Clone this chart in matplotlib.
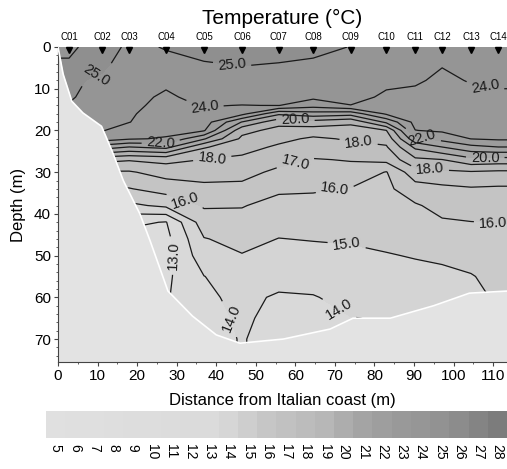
import numpy as np
import matplotlib
matplotlib.use("Agg")
import matplotlib.pyplot as plt
from matplotlib.colors import LinearSegmentedColormap, Normalize

plt.rcParams["font.family"] = ["Liberation Sans", "DejaVu Sans"]

# stations along the transect
stations = ["C01", "C02", "C03", "C04", "C05", "C06", "C07",
            "C08", "C09", "C10", "C11", "C12", "C13", "C14"]
station_x = [2.8, 11.1, 18.0, 27.3, 36.9, 46.5, 55.8, 64.5, 74.0, 83.0, 90.3, 97.1, 104.4, 111.3]

# depths of the profile samples (m)
depths = [0, 4, 8, 12, 14, 16, 18, 20, 22, 24, 27, 30, 34, 38, 42, 46, 50, 55, 60, 65, 70, 76]

# temperature profile of each station (°C), one value per depth
temp = [
    [24.8, 25.1, 25.15, 25.1, 24.95, 24.85, 24.7, 24.4, 23.8, 21.9, 18.5, 16.9, 15.9, 14.8, 13.2, 12.6, 12.5, 12.5, 12.5, 12.5, 12.5, 12.5],
    [25.5, 25.2, 24.85, 24.6, 24.5, 24.35, 24.2, 24.05, 23.5, 21.5, 18.3, 16.9, 15.9, 14.8, 13.2, 12.6, 12.5, 12.5, 12.5, 12.5, 12.5, 12.5],
    [24.8, 24.6, 24.45, 24.3, 24.2, 24.1, 24.02, 23.6, 23.1, 20.95, 18.1, 16.9, 15.95, 14.8, 13.2, 12.6, 12.5, 12.5, 12.6, 12.7, 12.8, 12.8],
    [25.05, 24.8, 24.2, 23.85, 23.75, 23.6, 23.5, 23.3, 22.9, 21.3, 18.3, 17.4, 16.4, 15.2, 12.95, 12.7, 12.6, 12.8, 12.9, 12.95, 12.95, 12.95],
    [25.3, 24.95, 24.6, 24.3, 24.05, 23.8, 23.5, 23.1, 21.1, 19.1, 17.98, 17.4, 16.75, 16.1, 15.55, 14.95, 14.6, 13.98, 13.85, 13.8, 13.8, 13.8],
    [25.4, 25.05, 24.7, 24.35, 23.98, 23.3, 20.95, 19.3, 18.8, 18.35, 17.8, 17.3, 16.75, 16.05, 15.7, 15.3, 14.95, 14.55, 14.2, 14.08, 14.03, 14.03],
    [25.35, 24.98, 24.6, 24.3, 24.02, 21.2, 19.3, 18.7, 18.25, 17.85, 17.3, 16.8, 16.15, 15.7, 15.35, 14.98, 14.7, 14.3, 13.9, 13.85, 13.8, 13.8],
    [25.2, 24.9, 24.55, 24.2, 23.4, 21.6, 19.6, 18.5, 17.85, 17.5, 16.95, 16.6, 16.1, 15.7, 15.4, 15.05, 14.7, 14.35, 13.95, 13.85, 13.8, 13.8],
    [24.98, 24.7, 24.45, 24.3, 23.98, 21.4, 19.2, 18.6, 18.1, 17.75, 17.05, 16.7, 15.95, 15.65, 15.4, 15.1, 14.8, 14.5, 14.25, 13.98, 13.9, 13.9],
    [24.8, 24.5, 24.2, 23.85, 23.6, 23.15, 21.2, 18.98, 18.35, 17.9, 17.3, 15.95, 15.8, 15.6, 15.4, 15.2, 14.95, 14.6, 14.3, 14.05, 13.9, 13.9],
    [24.7, 24.45, 24.1, 23.8, 23.65, 23.5, 23.3, 22.98, 21.7, 20.2, 18.8, 17.6, 16.55, 15.9, 15.6, 15.35, 15.05, 14.75, 14.3, 14.02, 13.9, 13.9],
    [24.3, 24.05, 23.85, 23.7, 23.6, 23.45, 23.3, 23.15, 22.35, 20.98, 18.98, 17.8, 16.75, 16.3, 15.9, 15.55, 15.15, 14.8, 14.6, 14.5, 14.4, 14.4],
    [24.45, 24.3, 24.05, 23.8, 23.65, 23.5, 23.35, 23.2, 23.02, 21.7, 19.7, 17.9, 16.9, 16.45, 15.98, 15.6, 15.3, 14.95, 14.8, 14.7, 14.6, 14.6],
    [24.5, 24.35, 24.1, 23.9, 23.8, 23.6, 23.45, 23.3, 23.15, 21.98, 19.6, 17.8, 16.85, 16.45, 16.02, 15.7, 15.45, 15.25, 15.1, 15.05, 15.05, 15.05],
]

# sea floor profile
bottom_x = [0, 1.3, 3.5, 6.3, 11, 13.7, 16.5, 20.7, 23.3, 27.8, 34, 40, 46, 57, 68.8, 74.6, 84, 95, 104, 113.5]
bottom_depth = [0, 6.5, 13, 15.8, 19, 25, 32, 40, 46.5, 58.5, 64.5, 69, 71, 70, 67.6, 65, 65, 62, 59, 58.5]

line_levels = list(range(13, 26))
cbar_values = list(range(5, 29))

# where the isotherm labels sit (distance, depth)
label_pos = {
    25: [(10, 7.2), (44, 4.3)],
    24: [(37, 14.2), (108, 9.4)],
    22: [(26, 23.1), (92, 21.7)],
    20: [(60, 17.4), (108, 26.5)],
    18: [(39, 26.8), (76, 22.6), (94, 29.0)],
    17: [(60, 27.8)],
    16: [(32, 37.0), (70, 34.3), (110, 42.0)],
    15: [(73, 47.2)],
    14: [(44, 65.0), (71, 63.0)],
    13: [(29, 50.0)],
}

# grey scale used by the original
grey_temp = [5, 13, 14.5, 15.5, 17, 19, 20.5, 22.5, 24.5, 26, 28]
grey_level = [0.88, 0.86, 0.83, 0.79, 0.76, 0.72, 0.66, 0.61, 0.585, 0.55, 0.49]
norm = Normalize(5, 28)
cmap = LinearSegmentedColormap.from_list(
    "sea", [((t - 5) / 23, (g, g, g)) for t, g in zip(grey_temp, grey_level)])

# grid: stations as columns, padded to the plot edges
T = np.array(temp).T
T = np.pad(T, ((0, 0), (1, 1)), mode="edge")
xg = np.concatenate([[0], station_x, [113.5]])
X, Y = np.meshgrid(xg, depths)

fig = plt.figure(figsize=(5.07, 4.69), dpi=100)
ax = fig.add_axes([58 / 507, 1 - 362 / 469, 449 / 507, 315 / 469])

ax.contourf(X, Y, T, levels=np.arange(5, 29), cmap=cmap, norm=norm)
for lev in line_levels:
    cs = ax.contour(X, Y, T, levels=[lev], colors="#1a1a1a", linewidths=0.9)
    if lev in label_pos:
        ax.clabel(cs, manual=label_pos[lev], inline=True, fmt="%.1f", fontsize=10.5)

# sea floor
ax.fill_between(bottom_x, bottom_depth, 80, color="#e3e3e3", lw=0, zorder=2.5)
ax.plot(bottom_x, bottom_depth, color="white", lw=1.2, zorder=2.6)

# stations
ax.plot(station_x, [0.8] * len(station_x), "v", color="black", ms=5,
        clip_on=False, zorder=5)
for name, sx in zip(stations, station_x):
    ax.annotate(name, (sx, 0), xytext=(0, 7.5), textcoords="offset points",
                ha="center", va="center", fontsize=7, annotation_clip=False)

ax.set_xlim(0, 113.5)
ax.set_ylim(75.5, 0)
ax.set_xticks(range(0, 111, 10))
ax.set_yticks(range(0, 71, 10))
ax.set_xticks(range(0, 114, 5), minor=True)
ax.set_yticks(range(0, 76, 2), minor=True)
ax.tick_params(which="major", length=3, width=0.8, labelsize=11, pad=2, color="#444444")
ax.tick_params(which="minor", length=1.5, width=0.6, color="#444444")
for side in ["top", "right"]:
    ax.spines[side].set_visible(False)
for side in ["left", "bottom"]:
    ax.spines[side].set_color("#444444")
    ax.spines[side].set_linewidth(0.8)

ax.set_xlabel("Distance from Italian coast (m)", fontsize=12, labelpad=7)
ax.set_ylabel("Depth (m)", fontsize=12, labelpad=6)
fig.text(0.557, 1 - 18 / 469, "Temperature (°C)", ha="center", va="center", fontsize=15)

# colour bar
cax = fig.add_axes([46 / 507, 1 - 438 / 469, 461 / 507, 27 / 469])
cax.imshow(np.array([cbar_values]), cmap=cmap, norm=norm, aspect="auto",
           extent=(4.5, 28.5, 0, 1))
cax.set_xticks(cbar_values)
cax.set_xticklabels([str(v) for v in cbar_values], rotation=-90, fontsize=10)
cax.set_yticks([])
cax.tick_params(axis="x", length=0, pad=4)
for s in cax.spines.values():
    s.set_visible(False)

fig.savefig("out.png", dpi=100)
